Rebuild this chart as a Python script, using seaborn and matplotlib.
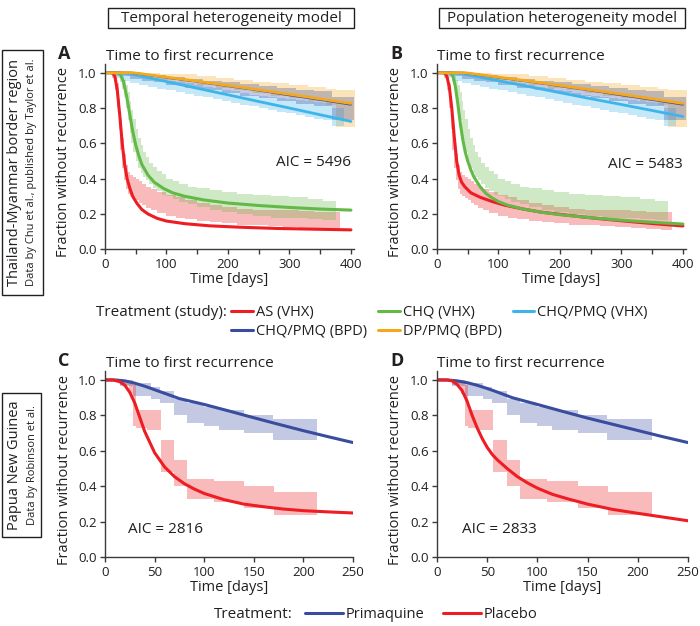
import matplotlib
matplotlib.use("Agg")
import matplotlib.pyplot as plt
import seaborn as sns
from matplotlib.patches import Rectangle
from matplotlib.lines import Line2D
from matplotlib.ticker import MultipleLocator, FormatStrFormatter

# ---------------- data ----------------
# Kaplan-Meier confidence bands (data, identical for both models); step functions
AS_T = [0, 12, 16, 19, 22, 25, 28, 31, 34, 37, 40, 45, 50, 55, 60, 67, 75, 85, 100, 115,
        130, 150, 170, 190, 215, 240, 265, 290, 315, 340, 365, 382]
AS_LO = [1.0, 0.97, 0.90, 0.80, 0.68, 0.56, 0.46, 0.39, 0.34, 0.315, 0.30, 0.29, 0.28, 0.265, 0.25, 0.235,
         0.22, 0.205, 0.19, 0.18, 0.17, 0.16, 0.155, 0.15, 0.14, 0.135, 0.13, 0.125, 0.12, 0.115, 0.11, 0.11]
AS_HI = [1.0, 1.0, 0.99, 0.94, 0.85, 0.74, 0.63, 0.54, 0.48, 0.44, 0.42, 0.41, 0.40, 0.385, 0.37, 0.355,
         0.34, 0.325, 0.31, 0.295, 0.28, 0.265, 0.25, 0.24, 0.23, 0.225, 0.22, 0.22, 0.215, 0.21, 0.21, 0.21]

CHQ_T = [0, 22, 25, 28, 31, 34, 37, 40, 43, 46, 50, 54, 58, 62, 67, 72, 78, 85, 92, 100,
         110, 120, 135, 150, 170, 190, 215, 240, 270, 300, 330, 355, 375]
CHQ_LO = [1.0, 0.98, 0.95, 0.91, 0.86, 0.80, 0.73, 0.66, 0.60, 0.55, 0.50, 0.46, 0.43, 0.41, 0.39, 0.37,
          0.35, 0.33, 0.31, 0.30, 0.285, 0.27, 0.255, 0.24, 0.225, 0.21, 0.20, 0.19, 0.18, 0.175, 0.17, 0.165, 0.165]
CHQ_HI = [1.0, 1.0, 0.995, 0.98, 0.96, 0.93, 0.89, 0.84, 0.79, 0.74, 0.68, 0.63, 0.59, 0.55, 0.52, 0.49,
          0.465, 0.445, 0.425, 0.40, 0.385, 0.37, 0.355, 0.345, 0.335, 0.325, 0.315, 0.31, 0.30, 0.295, 0.285, 0.275, 0.275]

CPV_T = [0, 10, 20, 30, 40, 55, 70, 85, 100, 115, 130, 145, 160, 175, 190, 205, 220, 235, 250, 265,
         280, 295, 310, 325, 340, 355, 370, 388]
CPV_LO = [1.0, 0.985, 0.97, 0.955, 0.94, 0.93, 0.92, 0.91, 0.90, 0.89, 0.88, 0.87, 0.86, 0.85, 0.84, 0.83,
          0.82, 0.81, 0.80, 0.79, 0.78, 0.77, 0.76, 0.75, 0.74, 0.73, 0.70, 0.70]
CPV_HI = [1.0, 1.0, 0.995, 0.99, 0.985, 0.98, 0.97, 0.96, 0.955, 0.95, 0.94, 0.93, 0.92, 0.915, 0.905, 0.895,
          0.885, 0.875, 0.87, 0.86, 0.855, 0.85, 0.845, 0.84, 0.835, 0.83, 0.80, 0.80]

CPB_T = [0, 20, 40, 60, 80, 100, 130, 160, 190, 220, 250, 280, 310, 340, 370, 405]
CPB_LO = [1.0, 0.98, 0.965, 0.955, 0.945, 0.93, 0.915, 0.90, 0.885, 0.87, 0.855, 0.84, 0.825, 0.81, 0.73, 0.73]
CPB_HI = [1.0, 1.0, 0.995, 0.99, 0.985, 0.975, 0.965, 0.955, 0.945, 0.935, 0.925, 0.915, 0.905, 0.895, 0.865, 0.865]

DPB_T = [0, 30, 60, 90, 120, 150, 180, 210, 240, 270, 300, 330, 360, 375, 410]
DPB_LO = [1.0, 0.99, 0.975, 0.96, 0.945, 0.93, 0.915, 0.90, 0.885, 0.87, 0.855, 0.84, 0.82, 0.69, 0.69]
DPB_HI = [1.0, 1.0, 1.0, 0.995, 0.99, 0.98, 0.97, 0.96, 0.95, 0.94, 0.93, 0.92, 0.91, 0.905, 0.905]

PRIM_T = [0, 15, 28, 46, 55, 70, 83, 100, 115, 140, 169, 214]
PRIM_LO = [1.0, 0.965, 0.91, 0.89, 0.87, 0.80, 0.76, 0.74, 0.72, 0.70, 0.66, 0.66]
PRIM_HI = [1.0, 1.0, 0.985, 0.96, 0.94, 0.89, 0.87, 0.85, 0.83, 0.80, 0.78, 0.78]

PLAC_T = [0, 15, 24, 28, 31, 42, 56, 70, 83, 110, 140, 170, 214]
PLAC_LO = [1.0, 0.97, 0.92, 0.74, 0.73, 0.72, 0.48, 0.40, 0.33, 0.31, 0.28, 0.24, 0.24]
PLAC_HI = [1.0, 1.0, 0.99, 0.97, 0.83, 0.83, 0.66, 0.55, 0.44, 0.43, 0.40, 0.37, 0.37]

# Model curves, panel A (temporal heterogeneity)
A_AS_T = [0, 12, 16, 20, 24, 28, 32, 36, 40, 45, 52, 60, 70, 85, 100, 130, 170, 220, 280, 340, 400]
A_AS_Y = [1.0, 1.0, 0.98, 0.90, 0.76, 0.60, 0.48, 0.40, 0.35, 0.30, 0.26, 0.225, 0.20, 0.175, 0.16, 0.145, 0.133, 0.125, 0.118, 0.114, 0.11]
A_CHQ_T = [0, 20, 25, 30, 35, 40, 45, 50, 55, 60, 70, 80, 95, 110, 130, 160, 200, 250, 300, 350, 400]
A_CHQ_Y = [1.0, 1.0, 0.99, 0.95, 0.87, 0.77, 0.67, 0.59, 0.53, 0.48, 0.42, 0.38, 0.345, 0.32, 0.30, 0.28, 0.262, 0.248, 0.237, 0.228, 0.222]
A_CPV_T = [0, 20, 30, 40, 50, 100, 150, 200, 250, 300, 350, 400]
A_CPV_Y = [1.0, 1.0, 0.998, 0.993, 0.987, 0.95, 0.912, 0.875, 0.837, 0.80, 0.762, 0.724]
# Model curves, panel B (population heterogeneity)
B_AS_T = [0, 12, 16, 20, 24, 28, 32, 36, 40, 45, 55, 70, 90, 110, 140, 170, 200, 240, 280, 320, 360, 400]
B_AS_Y = [1.0, 1.0, 0.98, 0.92, 0.80, 0.64, 0.50, 0.42, 0.38, 0.355, 0.32, 0.295, 0.27, 0.25, 0.228, 0.21, 0.198, 0.182, 0.168, 0.155, 0.143, 0.132]
B_CHQ_T = [0, 22, 26, 30, 34, 38, 42, 46, 50, 55, 60, 70, 80, 90, 100, 115, 140, 170, 200, 240, 280, 320, 360, 400]
B_CHQ_Y = [1.0, 1.0, 0.98, 0.92, 0.82, 0.71, 0.62, 0.55, 0.50, 0.45, 0.41, 0.355, 0.315, 0.29, 0.27, 0.25, 0.228, 0.21, 0.196, 0.182, 0.17, 0.16, 0.151, 0.143]
B_CPV_T = [0, 20, 30, 40, 50, 100, 150, 200, 250, 300, 350, 400]
B_CPV_Y = [1.0, 1.0, 0.998, 0.994, 0.988, 0.955, 0.921, 0.887, 0.853, 0.82, 0.786, 0.752]
# shared by A and B
CPB_MODEL_T = [0, 40, 50, 100, 150, 200, 250, 300, 350, 400]
CPB_MODEL_Y = [1.0, 1.0, 0.997, 0.973, 0.95, 0.925, 0.90, 0.873, 0.847, 0.82]
DPB_MODEL_T = [0, 45, 55, 100, 150, 200, 250, 300, 350, 400]
DPB_MODEL_Y = [1.0, 1.0, 0.996, 0.975, 0.952, 0.928, 0.903, 0.878, 0.852, 0.826]

# Panels C/D models
C_PLAC_T = [0, 8, 15, 20, 25, 30, 35, 40, 45, 50, 55, 60, 70, 80, 90, 100, 120, 140, 160, 180, 200, 225, 250]
C_PLAC_Y = [1.0, 1.0, 0.99, 0.97, 0.93, 0.87, 0.79, 0.71, 0.65, 0.59, 0.55, 0.51, 0.455, 0.415, 0.385, 0.36, 0.325, 0.30, 0.285, 0.272, 0.263, 0.256, 0.25]
C_PRIM_T = [0, 10, 20, 30, 40, 50, 60, 75, 100, 125, 150, 175, 200, 225, 250]
C_PRIM_Y = [1.0, 1.0, 0.995, 0.982, 0.965, 0.945, 0.925, 0.895, 0.862, 0.825, 0.787, 0.75, 0.714, 0.68, 0.647]
D_PLAC_T = [0, 10, 15, 20, 25, 30, 35, 40, 45, 50, 55, 60, 70, 80, 90, 100, 115, 130, 150, 175, 200, 225, 250]
D_PLAC_Y = [1.0, 1.0, 0.995, 0.975, 0.94, 0.88, 0.80, 0.73, 0.67, 0.62, 0.58, 0.55, 0.50, 0.455, 0.42, 0.39, 0.355, 0.33, 0.30, 0.27, 0.248, 0.227, 0.206]
D_PRIM_T = [0, 10, 20, 30, 40, 50, 60, 75, 100, 125, 150, 175, 200, 225, 250]
D_PRIM_Y = [1.0, 1.0, 0.995, 0.985, 0.97, 0.952, 0.932, 0.90, 0.862, 0.823, 0.785, 0.75, 0.715, 0.68, 0.647]

TOP_LABELS = ["AS (VHX)", "CHQ (VHX)", "CHQ/PMQ (VHX)", "CHQ/PMQ (BPD)", "DP/PMQ (BPD)"]
BOTTOM_LABELS = ["Primaquine", "Placebo"]
AIC = ["AIC = 5496", "AIC = 5483", "AIC = 2816", "AIC = 2833"]
COL_TITLES = ["Temporal heterogeneity model", "Population heterogeneity model"]

# ---------------- style ----------------
RED = "#EE1D23"
GREEN = "#62B946"
LBLUE = "#3DB5EA"
DBLUE = "#3A4C9F"
ORANGE = "#F5A81C"
INK = "#231F20"
SPINE = "#3a3a3a"

sns.set_theme(style="ticks")
plt.rcParams["font.family"] = ["Open Sans", "DejaVu Sans"]
plt.rcParams["text.color"] = INK

fig = plt.figure(figsize=(7, 6.26), dpi=100)
W, H = 700.0, 626.0


def fx(px):
    return px / W


def fy(py):
    return (H - py) / H


def style_axes(ax, xmax, major, minor):
    ax.set_xlim(0, xmax)
    ax.set_ylim(0, 1.05)
    ax.xaxis.set_major_locator(MultipleLocator(major))
    if minor:
        ax.xaxis.set_minor_locator(MultipleLocator(minor))
    ax.yaxis.set_major_locator(MultipleLocator(0.2))
    ax.yaxis.set_major_formatter(FormatStrFormatter("%.1f"))
    sns.despine(ax=ax)
    for s in ("left", "bottom"):
        ax.spines[s].set_color(SPINE)
        ax.spines[s].set_linewidth(1.0)
    ax.tick_params(which="both", direction="out", length=3.5, width=1.0,
                   color=SPINE, labelsize=9.5, labelcolor=INK, pad=2.5)
    ax.set_xlabel("Time [days]", fontsize=10.5, color=INK, labelpad=1)
    ax.set_ylabel("Fraction without recurrence", fontsize=10.5, color=INK)
    ax.yaxis.set_label_coords(-0.135, 0.47)
    ax.set_facecolor("none")


def band(ax, t, lo, hi, color):
    ax.fill_between(t, lo, hi, step="post", color=color, alpha=0.3, lw=0)


def model(ax, t, y, color, lw):
    sns.lineplot(x=t, y=y, ax=ax, color=color, lw=lw, legend=False)


top_bands = [
    (AS_T, AS_LO, AS_HI, RED),
    (CHQ_T, CHQ_LO, CHQ_HI, GREEN),
    (DPB_T, DPB_LO, DPB_HI, ORANGE),
    (CPV_T, CPV_LO, CPV_HI, LBLUE),
    (CPB_T, CPB_LO, CPB_HI, DBLUE),
]

axA = fig.add_axes([fx(105), fy(249.3), 249 / W, 185.4 / H])
axB = fig.add_axes([fx(437), fy(249.3), 249 / W, 185.4 / H])
axC = fig.add_axes([fx(105), fy(557.3), 248 / W, 186.2 / H])
axD = fig.add_axes([fx(437), fy(557.3), 251 / W, 186.2 / H])

for ax, (as_t, as_y, chq_t, chq_y, cpv_t, cpv_y) in [
    (axA, (A_AS_T, A_AS_Y, A_CHQ_T, A_CHQ_Y, A_CPV_T, A_CPV_Y)),
    (axB, (B_AS_T, B_AS_Y, B_CHQ_T, B_CHQ_Y, B_CPV_T, B_CPV_Y)),
]:
    for t, lo, hi, c in top_bands:
        band(ax, t, lo, hi, c)
    model(ax, as_t, as_y, RED, 2.2)
    model(ax, chq_t, chq_y, GREEN, 2.2)
    model(ax, cpv_t, cpv_y, LBLUE, 2.0)
    model(ax, CPB_MODEL_T, CPB_MODEL_Y, DBLUE, 1.6)
    model(ax, DPB_MODEL_T, DPB_MODEL_Y, ORANGE, 2.0)
    style_axes(ax, 405, 100, 50)

for ax, (pl_t, pl_y, pr_t, pr_y) in [
    (axC, (C_PLAC_T, C_PLAC_Y, C_PRIM_T, C_PRIM_Y)),
    (axD, (D_PLAC_T, D_PLAC_Y, D_PRIM_T, D_PRIM_Y)),
]:
    band(ax, PRIM_T, PRIM_LO, PRIM_HI, DBLUE)
    band(ax, PLAC_T, PLAC_LO, PLAC_HI, RED)
    model(ax, pr_t, pr_y, DBLUE, 2.2)
    model(ax, pl_t, pl_y, RED, 2.2)
    style_axes(ax, 250, 50, None)

# AIC annotations
axA.text(400, 0.49, AIC[0], ha="right", va="center", fontsize=11)
axB.text(400, 0.48, AIC[1], ha="right", va="center", fontsize=11)
axC.text(23, 0.155, AIC[2], ha="left", va="center", fontsize=11)
axD.text(25, 0.155, AIC[3], ha="left", va="center", fontsize=11)

# panel letters and titles
for letter, lx, tx, base in [("A", 58, 106, 59), ("B", 390, 437, 59),
                             ("C", 58, 106, 366), ("D", 390, 437, 366)]:
    fig.text(fx(lx), fy(base), letter, fontsize=13, fontweight="bold", va="baseline", ha="left")
    fig.text(fx(tx), fy(base + 1), "Time to first recurrence", fontsize=11, va="baseline", ha="left")

# column title boxes
for title, x0, x1 in [(COL_TITLES[0], 108, 354), (COL_TITLES[1], 439, 685)]:
    fig.add_artist(Rectangle((fx(x0), fy(28)), (x1 - x0) / W, 20 / H, transform=fig.transFigure,
                             fill=False, edgecolor=INK, lw=1.0))
    fig.text(fx((x0 + x1) / 2), fy(18), title, fontsize=11, ha="center", va="center")

# row title boxes
for big, small, y0, y1, x1 in [
    ("Thailand-Myanmar border region", "Data by Chu et al., published by Taylor et al.", 50, 295, 43),
    ("Papua New Guinea", "Data by Robinson et al.", 393, 537, 41),
]:
    fig.add_artist(Rectangle((fx(2), fy(y1)), (x1 - 2) / W, (y1 - y0) / H, transform=fig.transFigure,
                             fill=False, edgecolor=INK, lw=1.0))
    yc = fy((y0 + y1) / 2)
    fig.text(fx(15), yc, big, fontsize=10.5, rotation=90, ha="center", va="center")
    fig.text(fx(32), yc, small, fontsize=8, rotation=90, ha="center", va="center")

# legend 1
fig.text(fx(227), fy(313), "Treatment (study):", fontsize=11, ha="right", va="center")
cols = [RED, GREEN, LBLUE, DBLUE, ORANGE]
handles = [Line2D([], [], color=c, lw=2.2) for c in cols]
order = [0, 3, 1, 4, 2]
fig.legend([handles[i] for i in order], [TOP_LABELS[i] for i in order],
           loc="upper left", bbox_to_anchor=(fx(231), fy(305)), ncol=3, frameon=False,
           fontsize=10.5, handlelength=1.5, handletextpad=0.2, columnspacing=0.75,
           labelspacing=0.25, borderpad=0, borderaxespad=0)

# legend 2
fig.text(fx(293), fy(615), "Treatment:", fontsize=11, ha="right", va="center")
h2 = [Line2D([], [], color=DBLUE, lw=2.2), Line2D([], [], color=RED, lw=2.2)]
fig.legend(h2, BOTTOM_LABELS, loc="center left", bbox_to_anchor=(fx(305), fy(615)), ncol=2,
           frameon=False, fontsize=10.5, handlelength=2.6, handletextpad=0.2, columnspacing=1.25,
           borderpad=0, borderaxespad=0)

fig.savefig("out.png", dpi=100)
